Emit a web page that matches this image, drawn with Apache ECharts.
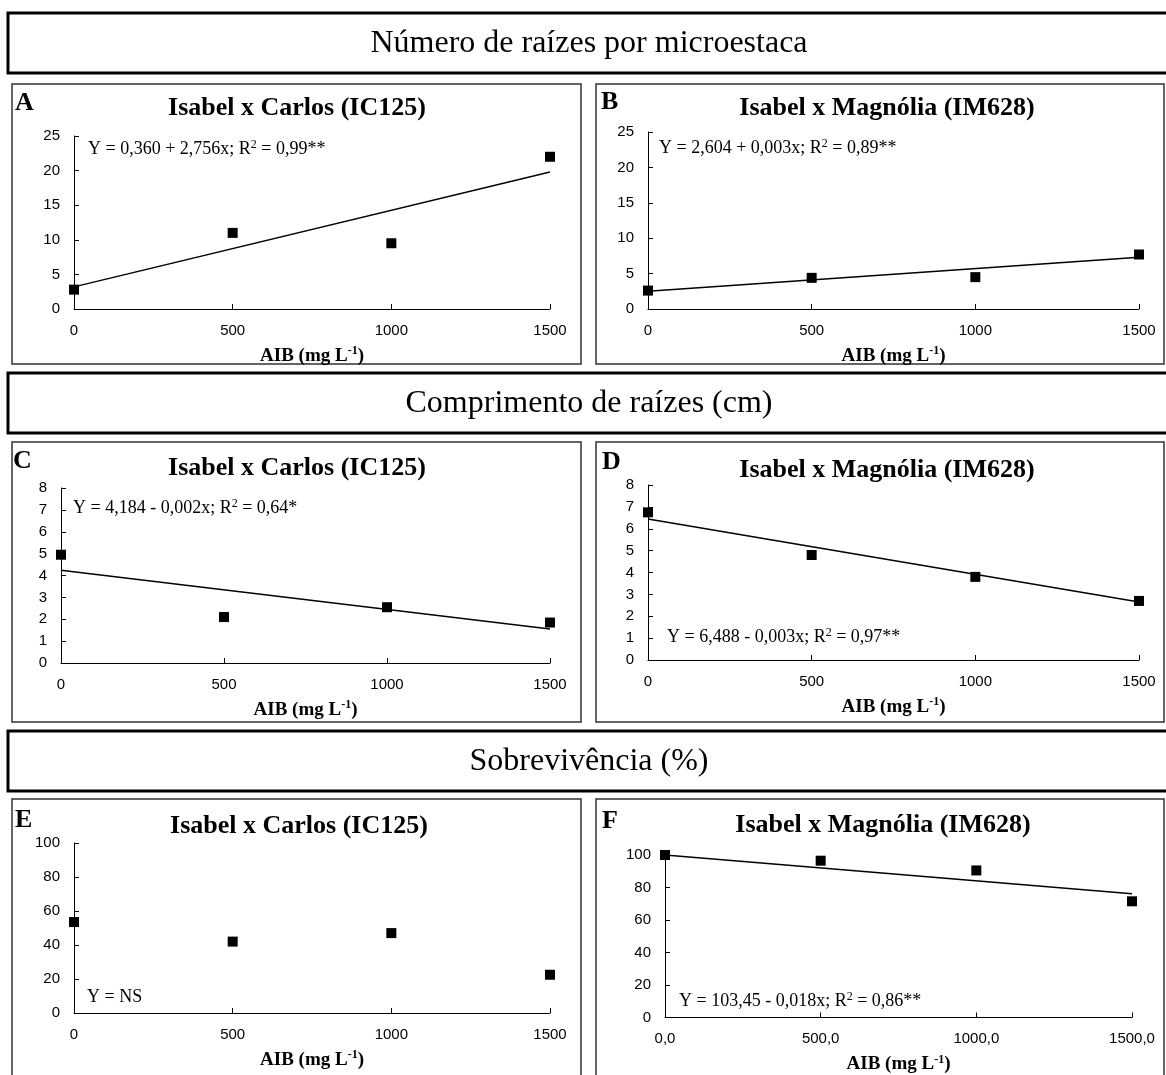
<!DOCTYPE html>
<html>
<head>
<meta charset="utf-8">
<title>AIB - microestacas</title>
<script src="https://cdn.jsdelivr.net/npm/echarts@6/dist/echarts.min.js"></script>
</head>
<body style="margin:0;background:#fff">
<div id="main" style="width:1166px;height:1075px"></div>
<script>
// doses de AIB (mg L-1)
var doses = [0, 500, 1000, 1500];

// numero de raizes por microestaca
var raizesIC = [2.8, 11.0, 9.5, 22.0];
var raizesIM = [2.6, 4.4, 4.5, 7.7];
// comprimento de raizes (cm)
var comprIC = [4.95, 2.1, 2.55, 1.85];
var comprIM = [6.75, 4.8, 3.8, 2.7];
// sobrevivencia (%)
var sobrevIC = [53.5, 42, 47, 22.5];
var sobrevIM = [100, 96.5, 90.5, 71.5];

var ajusteRaizesIC = [3.2, 19.8];
var ajusteRaizesIM = [2.5, 7.3];
var ajusteComprIC = [4.24, 1.55];
var ajusteComprIM = [6.45, 2.65];
var ajusteSobrevIM = [100, 76.2];

var titulosSecao = ['Número de raízes por microestaca', 'Comprimento de raízes (cm)', 'Sobrevivência (%)'];
var letras = ['A', 'B', 'C', 'D', 'E', 'F'];
var titulosPainel = ['Isabel x Carlos (IC125)', 'Isabel x Magnólia (IM628)'];

var serif = '"Liberation Serif", "Times New Roman", serif';
var sans = '"Liberation Sans", Arial, sans-serif';

var paineis = [
    {grid: {left: 74, top: 136, width: 476, height: 173}, max: 25, step: 5, pts: raizesIC, fit: ajusteRaizesIC,
     eq: ['Y = 0,360 + 2,756x; R', ' = 0,99**'], eqPos: [88, 149], title: [297, 108], letter: [15, 103]},
    {grid: {left: 648, top: 132, width: 491, height: 177}, max: 25, step: 5, pts: raizesIM, fit: ajusteRaizesIM,
     eq: ['Y = 2,604 + 0,003x; R', ' = 0,89**'], eqPos: [659, 148], title: [887, 108], letter: [601, 102]},
    {grid: {left: 61, top: 488, width: 489, height: 175}, max: 8, step: 1, pts: comprIC, fit: ajusteComprIC,
     eq: ['Y = 4,184 - 0,002x; R', ' = 0,64*'], eqPos: [73, 508], title: [297, 468], letter: [13, 461]},
    {grid: {left: 648, top: 485, width: 491, height: 175}, max: 8, step: 1, pts: comprIM, fit: ajusteComprIM,
     eq: ['Y = 6,488 - 0,003x; R', ' = 0,97**'], eqPos: [667, 637], title: [887, 470], letter: [602, 462]},
    {grid: {left: 74, top: 843, width: 476, height: 170}, max: 100, step: 20, pts: sobrevIC, fit: null,
     eq: ['Y = NS'], eqPos: [87, 997], title: [299, 826], letter: [15, 820]},
    {grid: {left: 665, top: 855, width: 467, height: 166}, max: 100, step: 20, pts: sobrevIM, fit: ajusteSobrevIM,
     eq: ['Y = 103,45 - 0,018x; R', ' = 0,86**'], eqPos: [679, 1001], title: [883, 825], letter: [602, 821], decimal: true}
];

var grids = [], xAxes = [], yAxes = [], series = [], graphics = [];

// caixas das secoes
[13, 373, 731].forEach(function (y, i) {
    graphics.push({
        type: 'rect', shape: {x: 8, y: y, width: 1175, height: 60},
        style: {fill: 'none', stroke: '#000', lineWidth: 3}
    });
    graphics.push({
        type: 'text', x: 589, y: y + 31,
        style: {text: titulosSecao[i], font: '32px ' + serif, fill: '#000', align: 'center', verticalAlign: 'middle'}
    });
});

// caixas dos paineis
[84, 442, 799].forEach(function (y) {
    graphics.push({type: 'rect', shape: {x: 12, y: y, width: 569, height: 280},
        style: {fill: 'none', stroke: '#333', lineWidth: 1.5}});
    graphics.push({type: 'rect', shape: {x: 596, y: y, width: 568, height: 280},
        style: {fill: 'none', stroke: '#333', lineWidth: 1.5}});
});

paineis.forEach(function (p, i) {
    grids.push(p.grid);
    xAxes.push({
        type: 'value', gridIndex: i, min: 0, max: 1500, interval: 500,
        axisLine: {lineStyle: {color: '#000', width: 1}},
        axisTick: {inside: true, length: 5, lineStyle: {color: '#000'}},
        splitLine: {show: false},
        axisLabel: {
            color: '#000', fontFamily: sans, fontSize: 15, margin: 14,
            formatter: p.decimal
                ? function (v) { return v.toFixed(1).replace('.', ','); }
                : function (v) { return String(v); }
        },
        name: '{b|AIB (mg L}{s|-1}{b|)}',
        nameLocation: 'middle', nameGap: 36,
        nameTextStyle: {
            rich: {
                b: {fontFamily: serif, fontWeight: 'bold', fontSize: 19, color: '#000', lineHeight: 22},
                s: {fontFamily: serif, fontWeight: 'bold', fontSize: 12, color: '#000', lineHeight: 22, verticalAlign: 'top'}
            }
        }
    });
    yAxes.push({
        type: 'value', gridIndex: i, min: 0, max: p.max, interval: p.step,
        axisLine: {show: true, lineStyle: {color: '#000', width: 1}},
        axisTick: {show: true, inside: true, length: 5, lineStyle: {color: '#000'}},
        splitLine: {show: false},
        axisLabel: {color: '#000', fontFamily: sans, fontSize: 15, margin: 14}
    });
    series.push({
        type: 'scatter', xAxisIndex: i, yAxisIndex: i, clip: false,
        symbol: 'rect', symbolSize: 10, itemStyle: {color: '#000', opacity: 1},
        data: doses.map(function (d, k) { return [d, p.pts[k]]; }),
        z: 3
    });
    if (p.fit) {
        series.push({
            type: 'line', xAxisIndex: i, yAxisIndex: i, symbol: 'none',
            lineStyle: {color: '#000', width: 1.5},
            data: [[doses[0], p.fit[0]], [doses[3], p.fit[1]]]
        });
    }

    graphics.push({
        type: 'text', x: p.letter[0], y: p.letter[1],
        style: {text: letras[i], font: 'bold 26px ' + serif, fill: '#000', align: 'left', verticalAlign: 'middle'}
    });
    graphics.push({
        type: 'text', x: p.title[0], y: p.title[1],
        style: {text: titulosPainel[i % 2], font: 'bold 26px ' + serif, fill: '#000', align: 'center', verticalAlign: 'middle'}
    });
    var eqText = p.eq.length > 1 ? '{n|' + p.eq[0] + '}{s|2}{n|' + p.eq[1] + '}' : '{n|' + p.eq[0] + '}';
    graphics.push({
        type: 'text', x: p.eqPos[0], y: p.eqPos[1],
        style: {
            text: eqText, align: 'left', verticalAlign: 'middle',
            rich: {
                n: {fontFamily: serif, fontSize: 18, fill: '#000', lineHeight: 20},
                s: {fontFamily: serif, fontSize: 12, fill: '#000', lineHeight: 20, verticalAlign: 'top'}
            }
        }
    });
});

var myChart = echarts.init(document.getElementById('main'));
myChart.setOption({
    backgroundColor: '#fff',
    animation: false,
    grid: grids,
    xAxis: xAxes,
    yAxis: yAxes,
    series: series,
    graphic: graphics
});
</script>
</body>
</html>
